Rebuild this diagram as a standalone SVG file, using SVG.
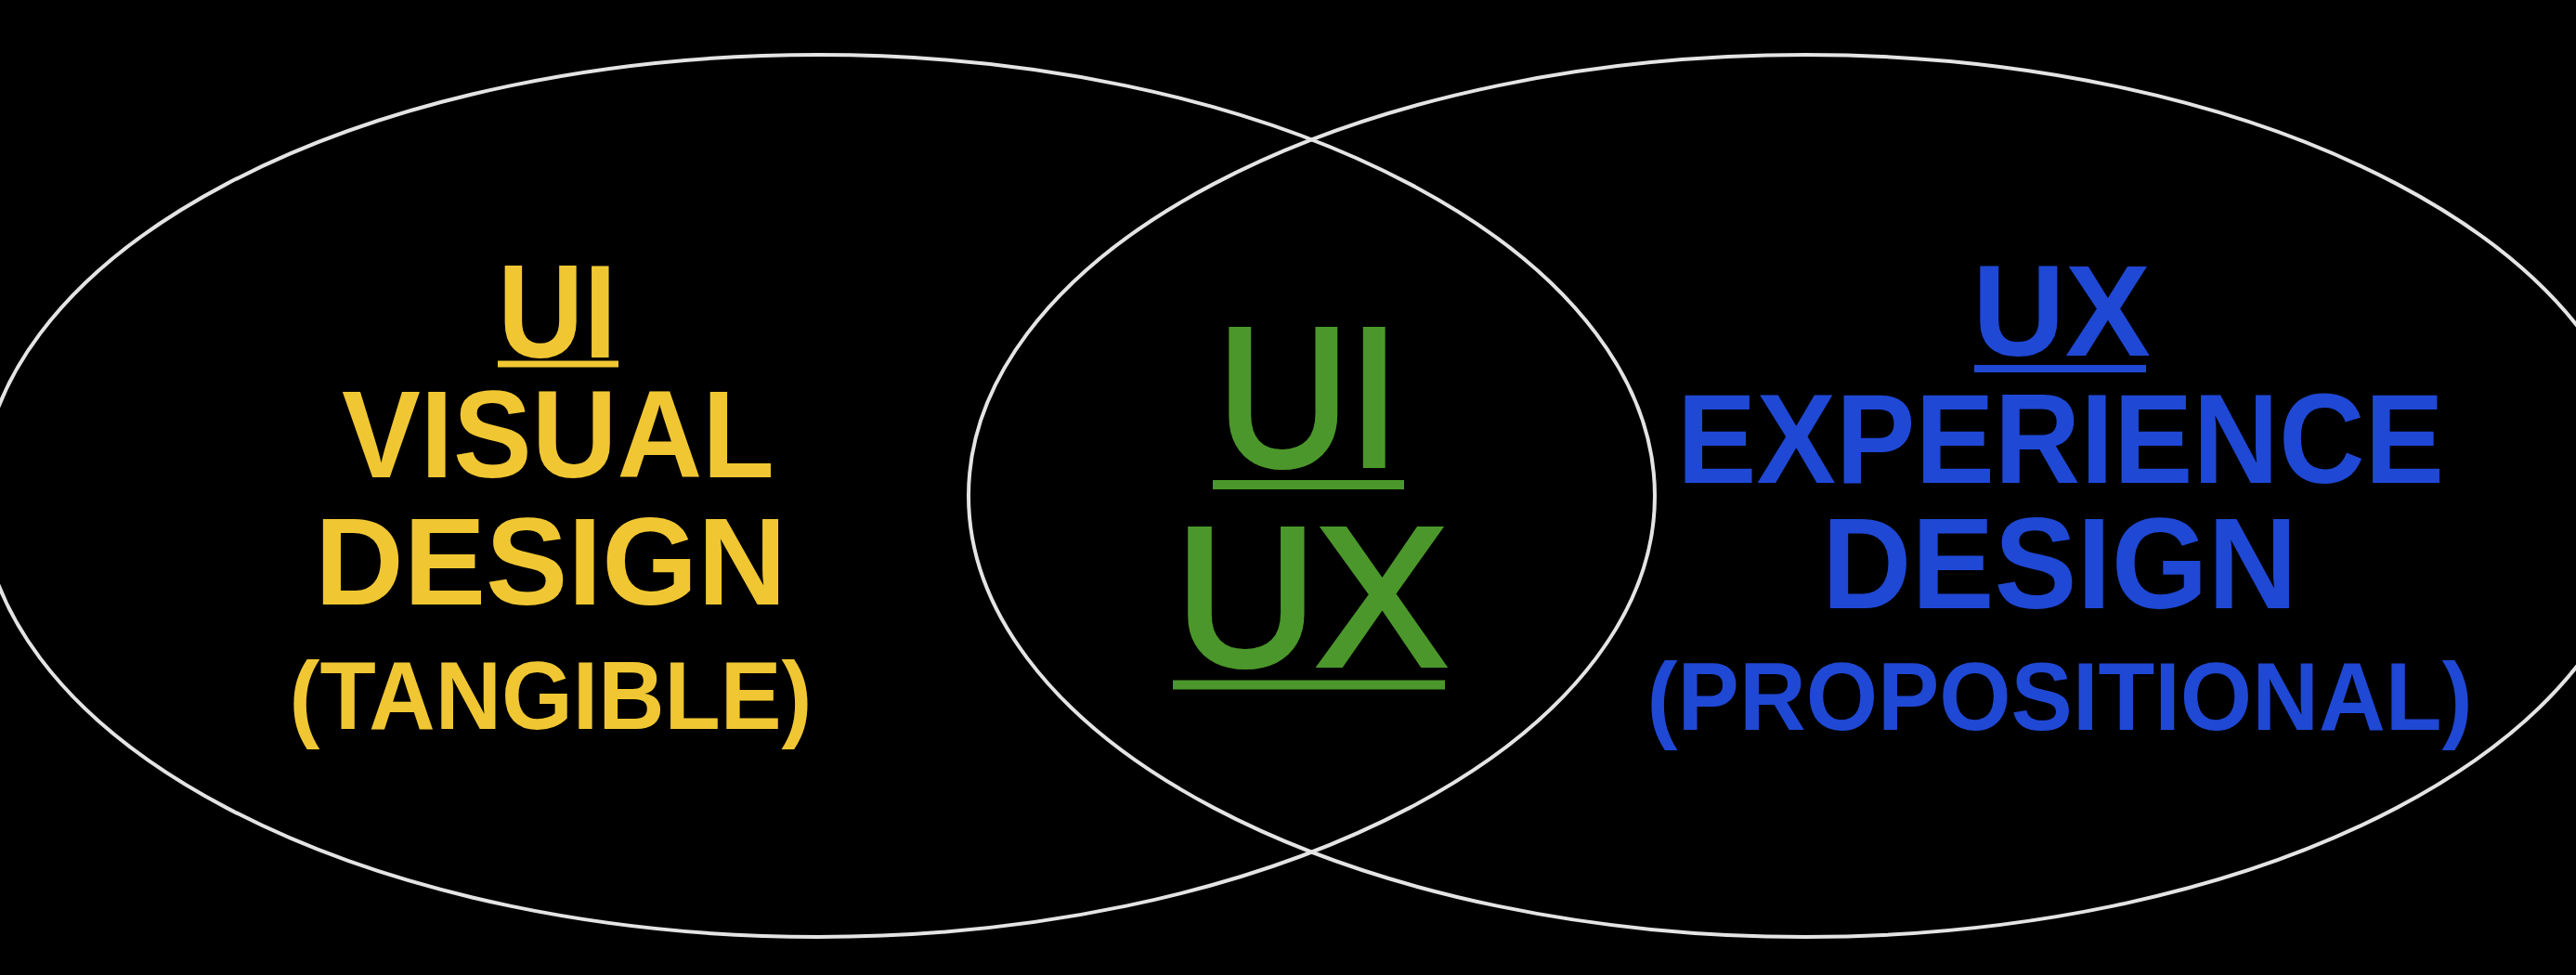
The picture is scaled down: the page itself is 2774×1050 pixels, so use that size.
<svg xmlns="http://www.w3.org/2000/svg" width="2774" height="1050" viewBox="0 0 2774 1050">
  <style>
    .ring { fill: none; stroke: #e4e4e4; stroke-width: 4; }
    .t { font-family: "Liberation Sans", Arial, Helvetica, sans-serif; font-weight: bold; text-anchor: middle; }
    .m { font-family: "Liberation Sans", Arial, Helvetica, sans-serif; font-weight: normal; text-anchor: middle; stroke-width: 6; stroke-linejoin: miter; }
    .yel { fill: #f0c733; }
    .grn { fill: #4b972b; }
    .grs { fill: #4b972b; stroke: #4b972b; }
    .blu { fill: #1f48d4; }
  </style>
  <rect x="0" y="0" width="2774" height="1050" fill="#000"/>
  <g id="ellipses">
    <ellipse id="ui-ring" class="ring" cx="881" cy="534" rx="901" ry="475"/>
    <ellipse id="ux-ring" class="ring" cx="1944" cy="534" rx="901" ry="475"/>
  </g>
  <g id="node-ui">
    <text class="t yel" x="600" y="385" font-size="142" textLength="128" lengthAdjust="spacingAndGlyphs">UI</text>
    <rect class="yel" x="536" y="388.5" width="130" height="7"/>
    <text class="t yel" x="601" y="514" font-size="134" textLength="466" lengthAdjust="spacingAndGlyphs">VISUAL</text>
    <text class="t yel" x="593" y="651" font-size="134" textLength="508" lengthAdjust="spacingAndGlyphs">DESIGN</text>
    <text class="t yel" x="593" y="785" font-size="104" textLength="563" lengthAdjust="spacingAndGlyphs">(TANGIBLE)</text>
  </g>
  <g id="node-center">
    <text class="m grs" x="1409" y="501" font-size="212" textLength="196" lengthAdjust="spacingAndGlyphs">UI</text>
    <rect class="grn" x="1306" y="517" width="206" height="10"/>
    <text class="m grs" x="1412" y="716" font-size="212" textLength="292" lengthAdjust="spacingAndGlyphs">UX</text>
    <rect class="grn" x="1263" y="732.5" width="293" height="10"/>
  </g>
  <g id="node-ux">
    <text class="t blu" x="2220" y="383" font-size="140" textLength="192" lengthAdjust="spacingAndGlyphs">UX</text>
    <rect class="blu" x="2126" y="393" width="185" height="8"/>
    <text class="t blu" x="2219" y="520" font-size="138" textLength="826" lengthAdjust="spacingAndGlyphs">EXPERIENCE</text>
    <text class="t blu" x="2218" y="655" font-size="140" textLength="512" lengthAdjust="spacingAndGlyphs">DESIGN</text>
    <text class="t blu" x="2218" y="786" font-size="104" textLength="889" lengthAdjust="spacingAndGlyphs">(PROPOSITIONAL)</text>
  </g>
  <g id="connectors"/>
</svg>
